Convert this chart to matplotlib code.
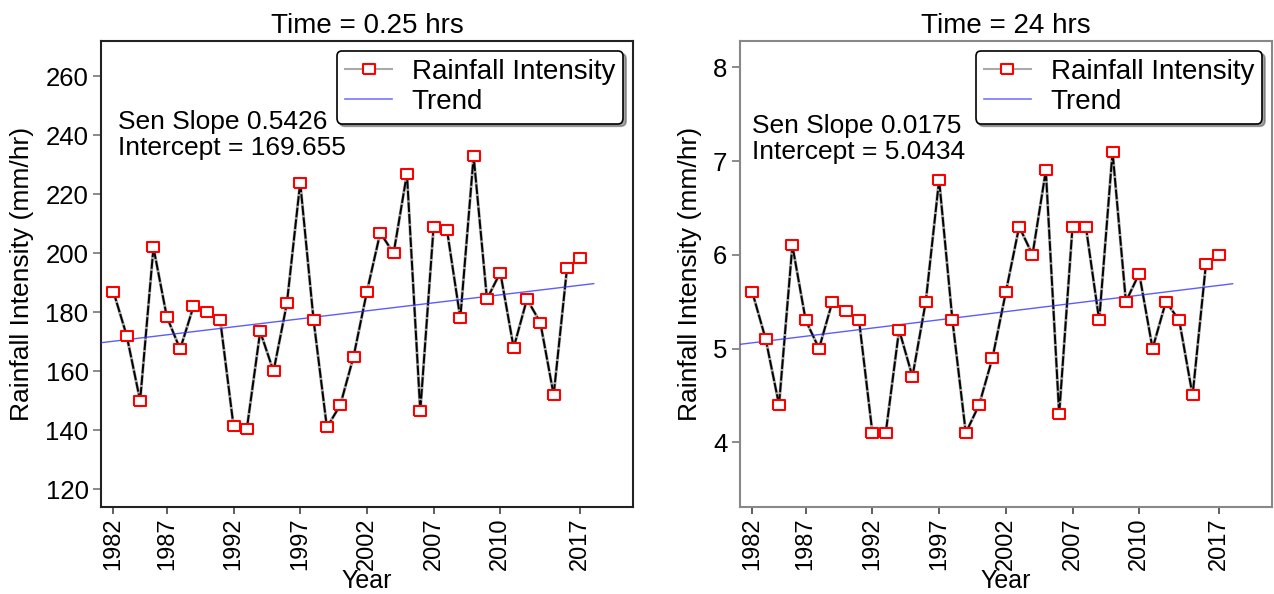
import matplotlib
matplotlib.use("Agg")
import matplotlib.pyplot as plt
import numpy as np

plt.rcParams['font.family'] = ['Liberation Sans', 'DejaVu Sans']

years = list(range(1982, 2018))
tick_idx = [0, 4, 9, 14, 19, 24, 29, 35]
tick_labels = ['1982', '1987', '1992', '1997', '2002', '2007', '2010', '2017']

intensity_025 = [187, 172, 150, 202, 178.5, 167.5, 182, 180, 177.5, 141.5,
                 140.5, 173.5, 160, 183, 224, 177.5, 141, 148.5, 165, 187,
                 207, 200, 227, 146.5, 209, 208, 178, 233, 184.5, 193.5,
                 168, 184.5, 176.5, 152, 195, 198.5]
intensity_24 = [5.6, 5.1, 4.4, 6.1, 5.3, 5.0, 5.5, 5.4, 5.3, 4.1,
                4.1, 5.2, 4.7, 5.5, 6.8, 5.3, 4.1, 4.4, 4.9, 5.6,
                6.3, 6.0, 6.9, 4.3, 6.3, 6.3, 5.3, 7.1, 5.5, 5.8,
                5.0, 5.5, 5.3, 4.5, 5.9, 6.0]

slopes = [0.5426, 0.0175]
intercepts = [169.655, 5.0434]
titles = ['Time = 0.25 hrs', 'Time = 24 hrs']
ylims = [(114, 272), (3.31, 8.28)]
yticks = [np.arange(120, 261, 20), np.arange(4, 9, 1)]
notes = ['Sen Slope 0.5426\nIntercept = 169.655', 'Sen Slope 0.0175\nIntercept = 5.0434']
note_pos = [(0.032, 0.851), (0.023, 0.843)]
spine_cols = ['#222222', '#888888']

fig = plt.figure(figsize=(12.74, 5.94), dpi=100)
axes = [fig.add_axes([0.0793, 0.1465, 0.4176, 0.7845]),
        fig.add_axes([0.5808, 0.1465, 0.4176, 0.7845])]

rect = [(-1.33, -1), (1.33, -1), (1.33, 1), (-1.33, 1), (-1.33, -1)]

for k, (ax, vals) in enumerate(zip(axes, [intensity_025, intensity_24])):
    idx = np.arange(len(years))
    ax.plot(idx, vals, color='#aaaaaa', lw=2.2, zorder=2)
    ax.plot(idx, vals, color='black', lw=1.4, dashes=(5, 1), zorder=3)
    ax.plot(idx, vals, linestyle='none', marker=rect, markersize=9,
            markerfacecolor='white', markeredgecolor='red', markeredgewidth=1.5, zorder=4)
    t = np.array([0, len(years) + 1])
    ax.plot(t - 1, intercepts[k] + slopes[k] * t, color='#3333ff', lw=1.0, alpha=0.8, zorder=3)

    # legend proxies
    h1, = ax.plot([], [], color='#aaaaaa', lw=1.5, marker=rect, markersize=9,
                  markerfacecolor='white', markeredgecolor='red', markeredgewidth=1.5)
    h2, = ax.plot([], [], color='#7777ff', lw=1.2)
    leg = ax.legend([h1, h2], ['Rainfall Intensity', 'Trend'], loc='upper right',
                    fontsize=20, frameon=True, shadow=True, fancybox=True,
                    handlelength=1.7, handletextpad=0.7, borderpad=0.3,
                    labelspacing=0.15, borderaxespad=0.35, framealpha=1)
    leg.get_frame().set_edgecolor('black')
    leg.get_frame().set_linewidth(1.2)

    ax.set_xlim(-0.93, 38.95)
    ax.set_ylim(*ylims[k])
    ax.set_yticks(yticks[k])
    ax.set_xticks(tick_idx)
    ax.set_xticklabels(tick_labels, rotation=90)
    ax.tick_params(axis='x', labelsize=17, length=5, width=1.2, colors='#444444', labelcolor='black', pad=2.5)
    ax.tick_params(axis='y', labelsize=18.5, length=6, width=1.2, colors='#777777', labelcolor='black', pad=3)
    for s in ax.spines.values():
        s.set_color(spine_cols[k])
        s.set_linewidth(1.5)
    ax.set_title(titles[k], fontsize=20, pad=6)
    ax.set_xlabel('Year', fontsize=18, va='baseline')
    ax.xaxis.set_label_coords(0.5, -0.1738)
    ax.set_ylabel('Rainfall Intensity (mm/hr)', fontsize=19, labelpad=8)
    ax.text(note_pos[k][0], note_pos[k][1], notes[k], transform=ax.transAxes,
            fontsize=19, va='top', ha='left', linespacing=1.08)

fig.savefig('out.png', dpi=100)
